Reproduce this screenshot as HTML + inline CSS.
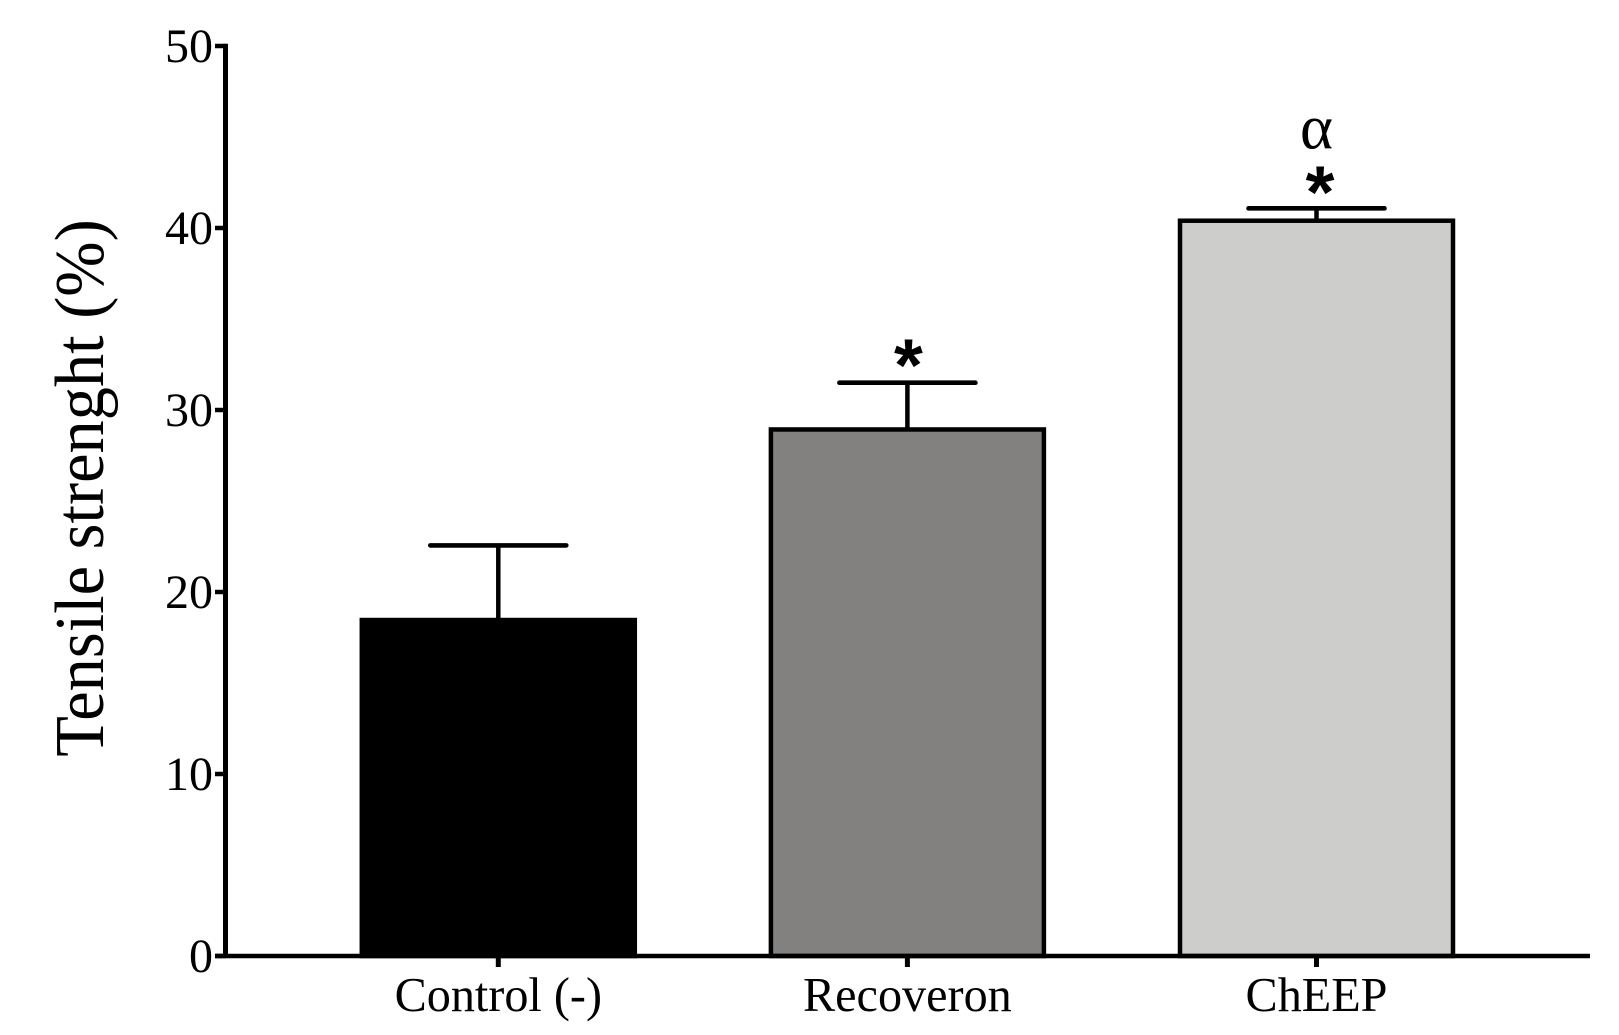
<!DOCTYPE html>
<html lang="en">
<head>
<meta charset="utf-8">
<title>Tensile strength bar chart</title>
<style>
html,body{margin:0;padding:0;background:#fff;width:1619px;height:1035px;overflow:hidden}
svg{display:block}
text{fill:#000;font-family:"Liberation Serif",serif}
</style>
</head>
<body>
<svg id="chart" width="1619" height="1035" viewBox="0 0 1619 1035" xmlns="http://www.w3.org/2000/svg">
<rect width="1619" height="1035" fill="#ffffff"/>
</svg>
<script>
const categories = ['Control (-)', 'Recoveron', 'ChEEP'];
const means = [18.46, 28.93, 40.4];
const errorTops = [22.56, 31.5, 41.08];
const barFills = ['#000000', '#82817f', '#cdcdcb'];
const yTicks = [0, 10, 20, 30, 40, 50];
const yTickLabels = ['0', '10', '20', '30', '40', '50'];
const annotations = [[], ['*'], ['*', 'α']];

const svg = document.getElementById('chart');
const NS = 'http://www.w3.org/2000/svg';
const yMin = 0, yMax = 50, y0 = 956, y1 = 46;
const firstCenter = 498.3, step = 409.1, barWidth = 273, capWidth = 136;
function yScale(v) { return y0 + (v - yMin) / (yMax - yMin) * (y1 - y0); }
function xScale(i) { return firstCenter + step * i; }
function make(tag, attrs) {
  const el = document.createElementNS(NS, tag);
  for (const k in attrs) el.setAttribute(k, attrs[k]);
  svg.appendChild(el);
  return el;
}

categories.forEach(function (cat, i) {
  const key = cat.toLowerCase().replace(/[^a-z]+/g, '');
  const cx = xScale(i);
  const top = yScale(means[i]);
  const capY = yScale(errorTops[i]);

  const stem = make('line', {x1: cx, x2: cx, y1: capY, y2: top, stroke: '#000', 'stroke-width': 4.5});
  
  

  const cap = make('line', {x1: cx - capWidth / 2, x2: cx + capWidth / 2, y1: capY, y2: capY, stroke: '#000', 'stroke-width': 4.6, 'stroke-linecap': 'round'});
  
  

  const bar = make('rect', {x: cx - barWidth / 2, y: top, width: barWidth, height: y0 - top, fill: barFills[i], stroke: '#000', 'stroke-width': 4.5});
  
  

  annotations[i].forEach(function (mark, j) {
    const isStar = mark === '*';
    const stacked = annotations[i].length > 1;
    const t = make('text', {
      x: cx + (isStar ? (stacked ? 3.5 : 1) : 0),
      y: isStar ? capY + (stacked ? 9 : 8) : capY - 60,
      'text-anchor': 'middle',
      'font-size': isStar ? 74 : 63,
      'font-weight': isStar ? 'bold' : 'normal'
    });
    if (isStar) t.style.fontFamily = '"Liberation Sans", sans-serif';
    t.textContent = mark;
    
    
  });

  const tick = make('line', {x1: cx, x2: cx, y1: y0, y2: 967, stroke: '#000', 'stroke-width': 5});
  
  

  const label = make('text', {x: cx, y: 1011, 'text-anchor': 'middle', 'font-size': 48.2});
  label.textContent = cat;
  
  
});

yTicks.forEach(function (v, i) {
  const y = yScale(v);
  const tick = make('line', {x1: 215, x2: 226, y1: y, y2: y, stroke: '#000', 'stroke-width': 4.5});
  
  

  const label = make('text', {x: 213, y: y + 16, 'text-anchor': 'end', 'font-size': 48});
  label.textContent = yTickLabels[i];
  
  
});

const yAxis = make('line', {x1: 225.5, x2: 225.5, y1: y1 - 2.2, y2: y0 + 2, stroke: '#000', 'stroke-width': 5});



const xAxis = make('line', {x1: 215, x2: 1590, y1: y0, y2: y0, stroke: '#000', 'stroke-width': 4.5});



const yTitle = make('text', {transform: 'translate(103 488) rotate(-90) scale(1 1.05)', 'text-anchor': 'middle', 'font-size': 66.4});
yTitle.textContent = 'Tensile strenght (%)';


</script>
</body>
</html>
